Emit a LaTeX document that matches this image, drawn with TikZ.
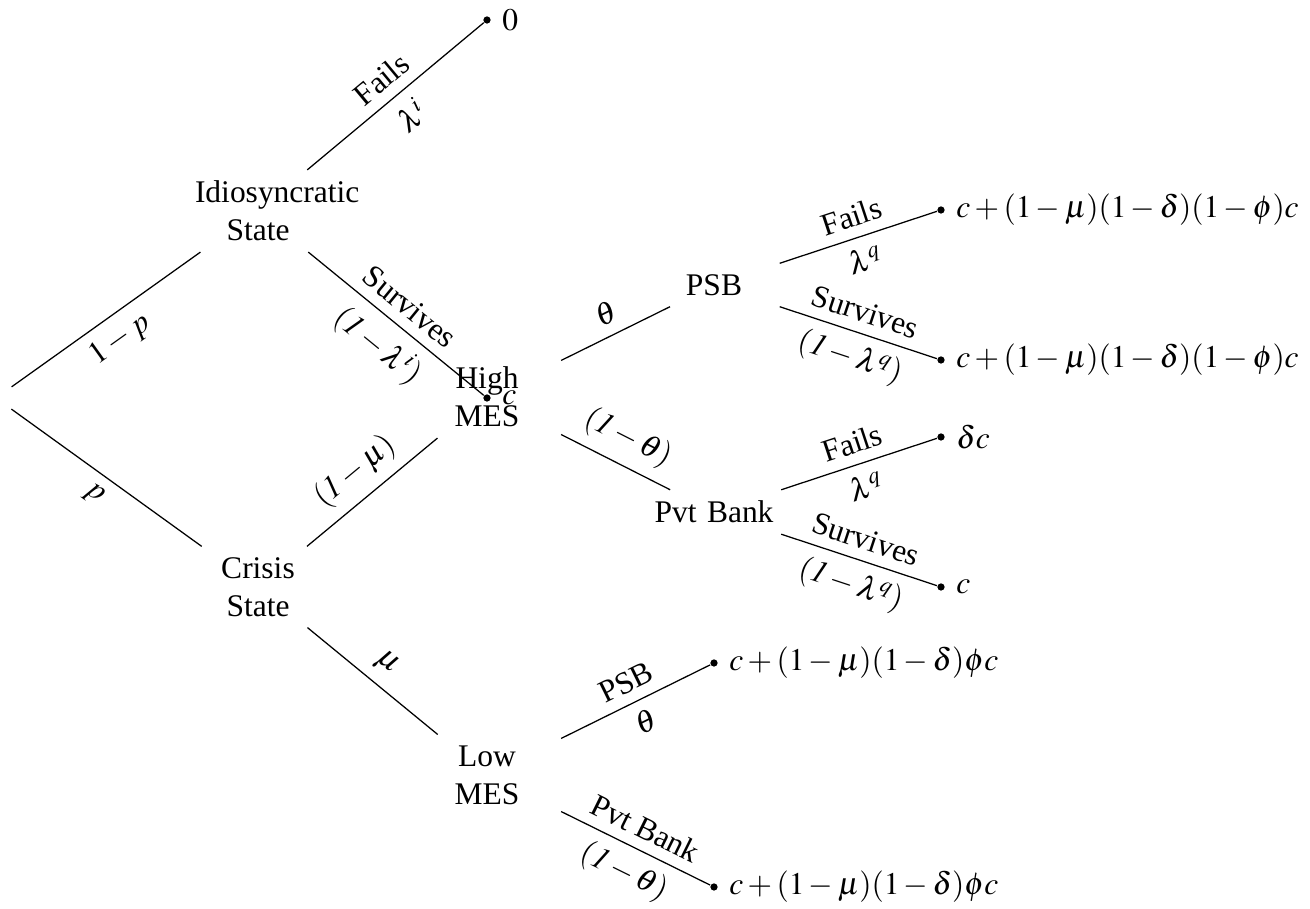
\documentclass[tikz,border=0pt]{standalone}
\usepackage{mathptmx}
\usepackage{fontspec}
\setmainfont{Liberation Serif}
\begin{document}
\begin{tikzpicture}[x=0.3175pt,y=-0.3175pt,
  bag/.style={text width=4em, align=center, inner sep=.3333em},
  endpt/.style={circle, minimum size=2.3pt, fill, inner sep=0pt},
  up/.style={sloped, above},
  dn/.style={sloped, below}]
\useasboundingbox (0,0) rectangle (1310,909);
% nodes
\node[bag] (root) at (-4,398) {};
\node[bag] (idio) at (258,211) {Idiosyncratic\\State};
\node[bag] (crisis) at (258,587) {Crisis\\State};
\node[endpt, label=right:{$0$}] (e0) at (487,20) {};
\node[endpt, label=right:{$c$}] (ec) at (487,398) {};
\node[bag] (high) at (487,397) {High\\MES};
\node[bag] (low) at (487,775) {Low\\MES};
\node[bag] (psb) at (714,285) {PSB};
\node[bag] (pvt) at (714,512) {Pvt~Bank};
\node[endpt, label=right:{$c+(1-\mu)(1-\delta)(1-\phi)c$}] (e1) at (941,210) {};
\node[endpt, label=right:{$c+(1-\mu)(1-\delta)(1-\phi)c$}] (e2) at (941,360) {};
\node[endpt, label=right:{$\delta c$}] (e3) at (941,437) {};
\node[endpt, label=right:{$c$}] (e4) at (941,587) {};
\node[endpt, label=right:{$c+(1-\mu)(1-\delta)\phi c$}] (e5) at (714,663) {};
\node[endpt, label=right:{$c+(1-\mu)(1-\delta)\phi c$}] (e6) at (714,887) {};
% edges
\draw (root) -- node[dn]{$1-p$} (idio);
\draw (root) -- node[dn]{$p$} (crisis);
\draw (idio) -- node[up]{Fails} node[dn]{$\lambda^i$} (e0);
\draw (idio) -- node[up]{Survives} node[dn]{$\mathit{(1-\lambda^i)}$} (ec);
\draw (crisis) -- node[up]{$\mathit{(1-\mu)}$} (high);
\draw (crisis) -- node[up]{$\mu$} (low);
\draw (high) -- node[up]{$\theta$} (psb);
\draw (high) -- node[up]{$\mathit{(1-\theta)}$} (pvt);
\draw (psb) -- node[up]{Fails} node[dn]{$\lambda^q$} (e1);
\draw (psb) -- node[up]{Survives} node[dn]{$\mathit{(1-\lambda^q)}$} (e2);
\draw (pvt) -- node[up]{Fails} node[dn]{$\lambda^q$} (e3);
\draw (pvt) -- node[up]{Survives} node[dn]{$\mathit{(1-\lambda^q)}$} (e4);
\draw (low) -- node[up]{PSB} node[dn]{$\theta$} (e5);
\draw (low) -- node[up]{Pvt Bank} node[dn]{$\mathit{(1-\theta)}$} (e6);
\end{tikzpicture}
\end{document}
